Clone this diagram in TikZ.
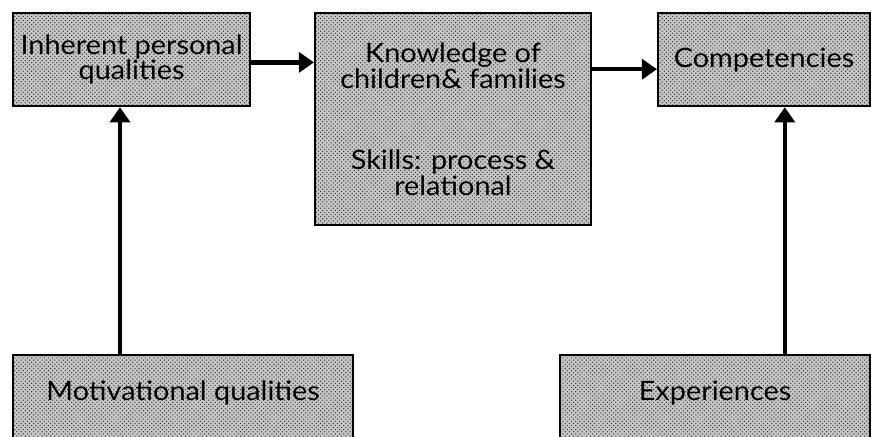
\documentclass[tikz,border=0pt]{standalone}
\usepackage{fontspec}
\setmainfont[FakeStretch=1.08]{Lato}
\usetikzlibrary{arrows.meta,patterns}
\begin{document}
\begin{tikzpicture}[line join=miter,
  every node/.style={font=\fontsize{19}{15.5}\selectfont},
  box/.style={draw,line width=1.4pt,preaction={fill=black!22},
    pattern=crosshatch dots,pattern color=black!80,align=center,inner sep=2pt},
  arr/.style={line width=3.2pt,-{Triangle[length=0.38cm,width=0.5cm]}}]
  \useasboundingbox (0,0) rectangle (21.875,-10.9);
  % top row
  \node[box,minimum width=5.93cm,minimum height=2.33cm] (inherent) at (3.29,-1.49) {Inherent personal\\qualities};
  \node[box,minimum width=6.90cm,minimum height=5.30cm] (knowledge) at (11.325,-2.98)
    {Knowledge of\\children\& families\\[1.5cm]Skills: process \&\\relational};
  \node[box,minimum width=5.30cm,minimum height=2.33cm] (competencies) at (19.10,-1.49) {Competencies};
  % bottom row
  \node[box,minimum width=8.50cm,minimum height=2.23cm,text depth=0.45cm] (motivational) at (4.58,-9.99) {Motivational qualities};
  \node[box,minimum width=7.75cm,minimum height=2.23cm,text depth=0.45cm] (experiences) at (17.875,-9.99) {Experiences};
  \coordinate (m) at (3.0,0); \coordinate (e) at (19.62,0);
  \draw[arr] ([yshift=-0.07cm]inherent.east) -- ([yshift=-0.07cm]inherent.east -| knowledge.west);
  \draw[arr] ([yshift=-0.24cm]competencies.west -| knowledge.east) -- ([yshift=-0.24cm]competencies.west);
  \draw[arr] (motivational.north -| m) -- (inherent.south -| m);
  \draw[arr] (experiences.north -| e) -- (competencies.south -| e);
\end{tikzpicture}
\end{document}
